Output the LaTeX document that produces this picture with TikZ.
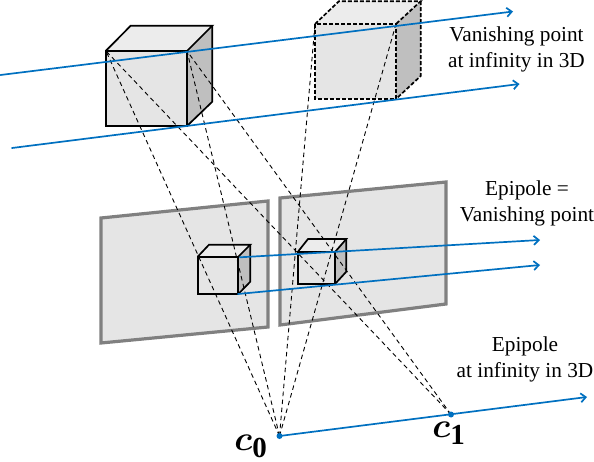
\documentclass[tikz,border=0pt]{standalone}
\usepackage{amsmath}
\usepackage{fontspec}
\setmainfont{Liberation Serif}
\usetikzlibrary{arrows.meta}
\definecolor{rayblue}{HTML}{0070C0}
\begin{document}
\begin{tikzpicture}[x=1pt, y=-1pt,
    >={Straight Barb[length=5pt,width=9pt]},
    blueline/.style={rayblue, line width=1.7pt, line cap=round},
    ray/.style={black, line width=0.9pt, dash pattern=on 4.5pt off 3.5pt},
    solidcube/.style={black, line width=1.7pt, line join=miter},
    hiddencube/.style={black, line width=1.7pt, dash pattern=on 4pt off 2pt},
    plane/.style={draw=gray, fill=gray!20, line width=3.2pt, line join=miter},
    label/.style={align=center, font=\fontsize{21.3}{26}\selectfont, inner sep=0pt},
    camlabel/.style={inner sep=0pt, scale=1.4, font=\Huge}]

  \useasboundingbox (0,0) rectangle (594,462);

  % Camera centres and the corners the rays go to
  \coordinate (C0) at (279.5,436);
  \coordinate (C1) at (451,414.5);
  \coordinate (A1) at (106,51);
  \coordinate (A2) at (187,51);
  \coordinate (B1) at (315,24);
  \coordinate (B2) at (396,24);

  % Image planes
  \draw[plane] (101,218) -- (268,201) -- (268,327) -- (101,343) -- cycle;
  \draw[plane] (280,198) -- (446,182) -- (446,304) -- (280,325) -- cycle;

  % Cubes: left/right/top/bottom of the front, then back face
  \foreach \xa/\xb/\ya/\yb/\xc/\xd/\yc/\yd/\cubestyle in {
      105.7/187/51/126/130.7/212.3/25.7/101.7/solidcube,
      315/396/24/99/339/420.7/1.2/76/hiddencube,
      197.7/238.3/256.7/294/209/250.3/244.7/281.7/solidcube,
      297.7/335/252/284/308/346.3/239/271.7/solidcube} {
    \fill[gray!15] (\xa,\ya) -- (\xc,\yc) -- (\xd,\yc) -- (\xb,\ya) -- cycle;
    \fill[gray!20] (\xa,\ya) rectangle (\xb,\yb);
    \fill[gray!50] (\xb,\ya) -- (\xd,\yc) -- (\xd,\yd) -- (\xb,\yb) -- cycle;
    \draw[\cubestyle] (\xa,\ya) rectangle (\xb,\yb);
    \draw[\cubestyle] (\xa,\ya) -- (\xc,\yc) -- (\xd,\yc) -- (\xb,\ya);
    \draw[\cubestyle] (\xd,\yc) -- (\xd,\yd) -- (\xb,\yb);
  }

  % Rays from the two cameras
  \foreach \p in {A1, A2, B1, B2} {
    \draw[ray] (C0) -- (\p);
  }
  \foreach \p in {A1, A2} {
    \draw[ray] (C1) -- (\p);
  }

  % Parallel lines
  \draw[blueline, ->] (0.5,75) -- (513,11.5);
  \draw[blueline, ->] (12,148) -- (519.5,84);
  \draw[blueline, ->] (240,257.3) -- (540,240);
  \draw[blueline, ->] (238,294) -- (540,265);
  \draw[blueline, ->] (C0) -- (587,397);
  \fill[rayblue] (C0) circle (3pt);
  \fill[rayblue] (C1) circle (3pt);

  % Labels
  \node[label] (vanish3d) at (516.5,49) {Vanishing point\\at infinity in 3D};
  \node[label] (vanish) at (527,203) {Epipole =\\Vanishing point};
  \node[label] (epipole) at (525,359) {Epipole\\at infinity in 3D};
  \node[camlabel] (c0) at (251,446.5) {$\boldsymbol{c}_{\mathbf{0}}$};
  \node[camlabel] (c1) at (449,433) {$\boldsymbol{c}_{\mathbf{1}}$};
\end{tikzpicture}
\end{document}
